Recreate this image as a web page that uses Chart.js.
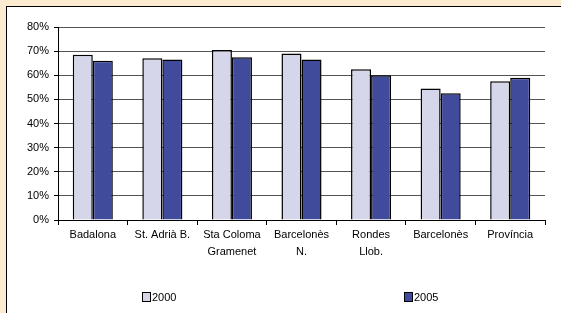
<!DOCTYPE html>
<html>
<head>
<meta charset="utf-8">
<script src="https://cdn.jsdelivr.net/npm/chart.js@4.4.0/dist/chart.umd.min.js"></script>
<style>
  html, body { margin: 0; padding: 0; background: #FCEBD0; }
  #frame {
    position: absolute; left: 6px; top: 6px; width: 555px; height: 307px;
    border-left: 1px solid #000; border-top: 1px solid #000; background: #fff;
  }
  #wrap { position: absolute; left: 0; top: 0; width: 555px; height: 307px; }
</style>
</head>
<body>
<div id="frame"><div id="wrap"><canvas id="c"></canvas></div></div>
<script>
var categories = ["Badalona", "St. Adrià B.", ["Sta Coloma", "Gramenet"], ["Barcelonès", "N."], ["Rondes", "Llob."], "Barcelonès", "Província"];
var values2000 = [68.5, 67, 70.5, 69, 62.5, 54.5, 57.5];
var values2005 = [66, 66.5, 67.5, 66.5, 60, 52.5, 59];
var yTicks = [0, 10, 20, 30, 40, 50, 60, 70, 80];

var FONT = "'Liberation Sans', Arial, sans-serif";

// legend spread across the bottom, like the original
var spreadLegend = {
    id: "spreadLegend",
    afterDraw: function(chart) {
        var ctx = chart.ctx;
        var xs = [135, 397];
        ctx.save();
        ctx.font = "11px " + FONT;
        ctx.textBaseline = "middle";
        chart.data.datasets.forEach(function(ds, i) {
            var x = xs[i], y = 290;
            ctx.fillStyle = ds.backgroundColor;
            ctx.fillRect(x + 0.5, y - 4.5, 8, 9);
            ctx.strokeStyle = "#000";
            ctx.lineWidth = 1;
            ctx.strokeRect(x + 0.5, y - 4.5, 8, 9);
            ctx.fillStyle = "#000";
            ctx.fillText(ds.label, x + 10, y + 0.5);
        });
        ctx.restore();
    }
};

new Chart(document.getElementById("c"), {
    type: "bar",
    data: {
        labels: categories,
        datasets: [
            { label: "2000", data: values2000, backgroundColor: "#D6D6EA", borderColor: "#000", borderWidth: 1.5 },
            { label: "2005", data: values2005, backgroundColor: "#404B9B", borderColor: "#000", borderWidth: 1.5 }
        ]
    },
    options: {
        responsive: true,
        maintainAspectRatio: false,
        animation: false,
        layout: { padding: { left: 0, right: 17, top: 20, bottom: 52 } },
        datasets: { bar: { categoryPercentage: 0.576, barPercentage: 1 } },
        plugins: { legend: { display: false }, tooltip: { enabled: false } },
        scales: {
            x: {
                grid: {
                    offset: true,
                    drawOnChartArea: true,
                    color: function(c) { return c.index === categories.length ? "#000" : "rgba(0,0,0,0)"; },
                    tickColor: "#000",
                    tickLength: 5
                },
                border: { color: "#000" },
                ticks: { color: "#000", font: { family: FONT, size: 11, lineHeight: 1.5 }, padding: 2, maxRotation: 0, autoSkip: false }
            },
            y: {
                min: 0, max: 80,
                afterBuildTicks: function(axis) { axis.ticks = yTicks.map(function(v) { return { value: v }; }); },
                grid: { color: "#555", tickColor: "#000", tickLength: 4 },
                border: { color: "#000" },
                ticks: {
                    color: "#000", font: { family: FONT, size: 11 }, padding: 5,
                    callback: function(v) { return v + "%"; }
                },
                afterFit: function(axis) { axis.width = 51; }
            }
        }
    },
    plugins: [spreadLegend]
});
</script>
</body>
</html>
